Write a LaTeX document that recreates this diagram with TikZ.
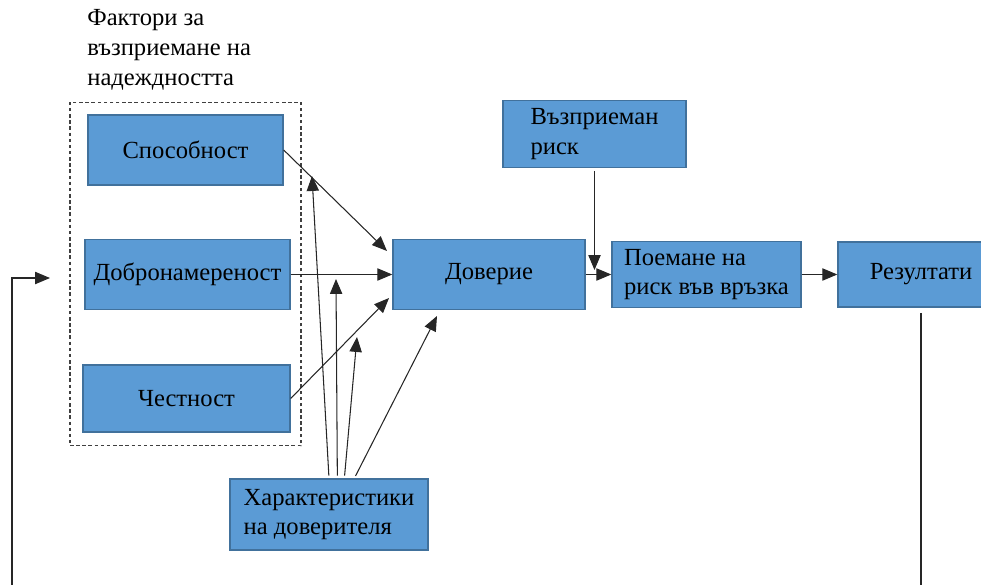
\documentclass[tikz,border=0pt]{standalone}
\usepackage{fontspec}
\setmainfont{Liberation Serif}
\usetikzlibrary{arrows.meta}
\definecolor{boxfill}{HTML}{5B9BD5}
\definecolor{boxline}{HTML}{41719C}

\begin{document}
\begin{tikzpicture}[x=0.02cm,y=-0.02cm,>={Triangle[length=8.5pt,width=7pt]},
    font=\fontsize{14}{17}\selectfont]
            \useasboundingbox (0,0) rectangle (981,585);
            \clip (0,0) rectangle (981,585);

            \node[align=left, anchor=north west, inner sep=0pt] (title) at (87,9) {Фактори за\\възприемане на\\надеждността};
            \node[draw=black!75, line width=0.6pt, dash pattern=on 2pt off 1.5pt,
                  minimum width=4.62cm, minimum height=6.88cm] (grp) at (185.5,274) {};

            \begin{scope}[every node/.style={rectangle,draw=boxline,fill=boxfill,line width=0.8pt,inner sep=2pt}]
                \node[minimum width=3.9cm, minimum height=1.4cm] (spos) at (185.5,150) {Способност};
                \node[minimum width=4.1cm, minimum height=1.4cm] (dob) at (187.5,274.5) {Добронамереност};
                \node[minimum width=4.14cm, minimum height=1.34cm] (chest) at (186.5,398.5) {Честност};
                \node[minimum width=3.84cm, minimum height=1.4cm] (dov) at (489,274.5) {Доверие};
                \node[minimum width=3.66cm, minimum height=1.34cm, align=left] (ris) at (594.5,134) {Възприеман\\риск};
                \node[minimum width=3.78cm, minimum height=1.32cm, align=left] (poe) at (706.5,274.5) {Поемане на\\риск във връзка};
                \node[minimum width=3.32cm, minimum height=1.3cm] (rez) at (921,274.5) {Резултати};
                \node[minimum width=3.96cm, minimum height=1.42cm, align=left] (har) at (329,514.5) {Характеристики\\на доверителя};
            \end{scope}

            \coordinate (a1) at (387,251);
            \coordinate (a3) at (389,298);
            \coordinate (t1) at (312,176);
            \coordinate (t2) at (336,279);
            \coordinate (t3) at (357,337);
            \coordinate (t4) at (437,316);
            \coordinate (r1) at (594.5,270);
            \coordinate (fb) at (12,585.5);
            \coordinate (fbin) at (50,278);

            \begin{scope}[draw=black!85, line width=0.6pt]
                \path [->] (spos.east) edge (a1)
                           (dob) edge (dov)
                           (chest.east) edge (a3)
                           (dov) edge (poe)
                           (poe) edge (rez);
                \path [->, shorten <=1.5pt] (har.90) edge (t1)
                           (har.77) edge (t2)
                           (har.67) edge (t3)
                           (har.55) edge (t4)
                           (ris.south) edge (r1);
                \draw [->, shorten <=3pt] (rez.south) |- (fb) |- (fbin);
            \end{scope}
            \end{tikzpicture}
\end{document}
